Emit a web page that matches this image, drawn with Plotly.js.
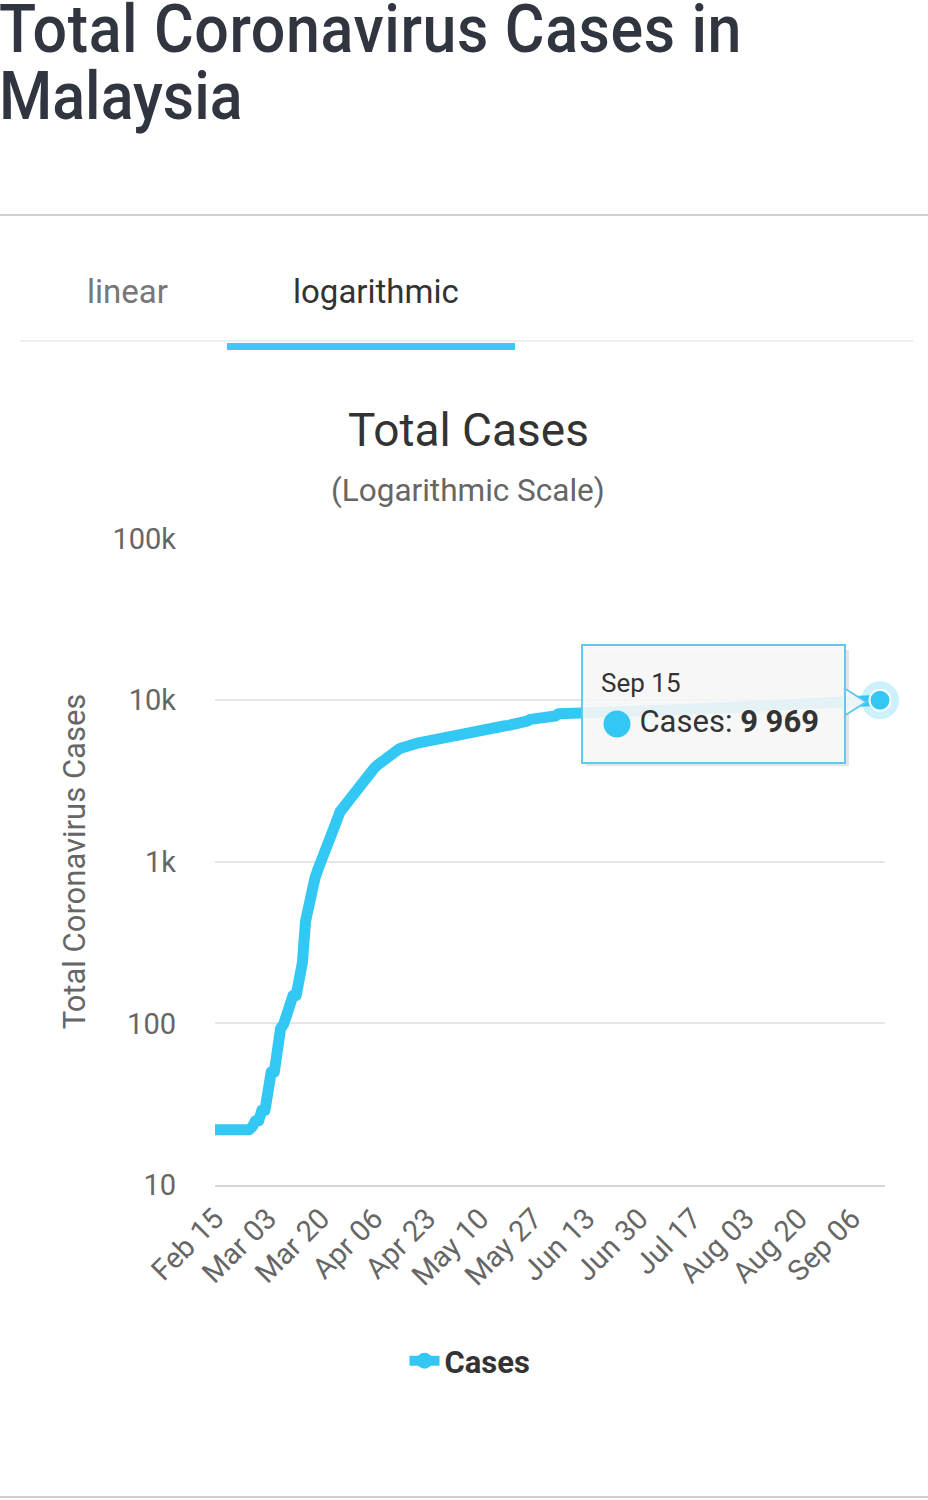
<!DOCTYPE html>
<html>
<head>
<meta charset="utf-8">
<script src="https://cdn.plot.ly/plotly-3.0.1.min.js"></script>
<style>
  html, body { margin:0; padding:0; background:#fff; width:928px; height:1500px; overflow:hidden; font-family: Roboto, "Noto Sans", sans-serif; }
  .head { position:absolute; left:-1px; font-size:66px; line-height:58px; height:58px; font-weight:500; color:#31353f; transform:scaleX(0.923); transform-origin:0 0; white-space:nowrap; }
  .hline { position:absolute; left:0; width:928px; height:2px; background:#d0d0d0; }
  .tab { position:absolute; top:272px; font-size:33px; line-height:40px; white-space:nowrap; }
  #tabsep { position:absolute; left:20px; width:893px; top:340px; height:2px; background:#eeeeee; }
  #tabbar { position:absolute; left:227px; width:288px; top:343px; height:7px; background:#3ec8f2; }
  #chart { position:absolute; left:0; top:360px; width:928px; height:1140px; }
  #chart path.js-line { stroke-linejoin: round; }
</style>
</head>
<body>
<div class="head" style="top:1px;letter-spacing:0.65px">Total Coronavirus Cases in</div>
<div class="head" style="top:68px">Malaysia</div>
<div class="hline" style="top:214px"></div>
<div class="tab" style="left:87px;color:#777">linear</div>
<div class="tab" style="left:293px;color:#333">logarithmic</div>
<div id="tabsep"></div>
<div id="tabbar"></div>
<div id="chart"></div>
<div class="hline" style="top:1496px"></div>
<script>
// ---- data (Feb 15 .. Sep 15, one value per day) ----
var startDate = "2020-02-15";
var casesFeb = [22,22,22,22,22,22,22,22,22,22,22,22,23,25,25];
var casesMar = [29,29,36,50,50,83,93,99,117,129,149,149,197,238,428,566,673,790,900,1030,1183,1306,1518,1624,1796,2031,2161,2320,2470,2626,2766];
var casesApr = [2908,3116,3333,3483,3662,3793,3963,4119,4228,4346,4530,4683,4817,4987,5072,5182,5251,5305,5389,5425,5482,5532,5603,5691,5742,5780,5820,5851,5945,6002];
var casesMay = [6071,6176,6298,6353,6383,6428,6467,6535,6589,6656,6726,6742,6779,6819,6855,6872,6894,6941,6978,7009,7059,7137,7185,7245,7417,7604,7619,7629,7732,7762,7819];
var casesJun = [7857,7877,7970,8247,8266,8303,8322,8329,8336,8338,8369,8402,8445,8453,8494,8505,8515,8529,8535,8556,8572,8587,8590,8596,8600,8606,8616,8634,8637,8640];
var casesJul = [8643,8648,8658,8663,8668,8674,8677,8683,8696,8704,8718,8725,8729,8734,8737,8755,8764,8779,8797,8800,8815,8831,8840,8861,8870,8884,8897,8904,8943,8956,8964];
var casesAug = [8976,8985,8999,9001,9002,9023,9038,9049,9063,9083,9094,9103,9114,9129,9149,9174,9175,9200,9212,9219,9235,9240,9257,9267,9274,9285,9291,9306,9334,9340,9354];
var casesSep = [9360,9374,9385,9391,9397,9459,9559,9583,9628,9810,9868,9885,9915,9946,9969];

var xTickLabels = ["Feb 15","Mar 03","Mar 20","Apr 06","Apr 23","May 10","May 27","Jun 13","Jun 30","Jul 17","Aug 03","Aug 20","Sep 06"];
var yTickVals = [10,100,1000,10000,100000];
var yTickText = ["10","100","1k","10k","100k"];
var seriesName = "Cases";

// ---- build ----
var cases = [].concat(casesFeb, casesMar, casesApr, casesMay, casesJun, casesJul, casesAug, casesSep);
var months = ["Jan","Feb","Mar","Apr","May","Jun","Jul","Aug","Sep","Oct","Nov","Dec"];
var dates = [];
var d0 = new Date(startDate + "T00:00:00Z");
for (var i = 0; i < cases.length; i++) {
  var d = new Date(d0.getTime() + i * 86400000);
  var dd = d.getUTCDate();
  dates.push(months[d.getUTCMonth()] + " " + (dd < 10 ? "0" + dd : dd));
}
var lastI = cases.length - 1;
var lastDate = dates[lastI].replace(/ 0(\d)$/, " $1");
var lastVal = String(cases[lastI]).replace(/\B(?=(\d{3})+(?!\d))/g, " ");

var blue = "#33c7f4";
var traces = [
  { x: dates, y: cases, type: "scatter", mode: "lines", name: seriesName, showlegend: false,
    line: { color: blue, width: 11, shape: "linear" }, hoverinfo: "skip", cliponaxis: false },
  { x: [dates[lastI]], y: [cases[lastI]], type: "scatter", mode: "markers", showlegend: false,
    marker: { color: "rgba(51,199,244,0.25)", size: 38 }, hoverinfo: "skip", cliponaxis: false },
  { x: [dates[lastI]], y: [cases[lastI]], type: "scatter", mode: "markers", showlegend: false,
    marker: { color: blue, size: 21, line: { color: "#ffffff", width: 2 } }, hoverinfo: "skip", cliponaxis: false },
  { x: [null], y: [null], type: "scatter", mode: "lines+markers", name: seriesName, showlegend: true,
    line: { color: blue, width: 10 }, marker: { color: blue, size: 16 } }
];

// pixel helpers for layout decoration (paper coordinates)
function px(x) { return (x - 215) / 670; }
function py(y) { return (1185 - y) / 647; }

var layout = {
  width: 928, height: 1140,
  margin: { l: 215, r: 43, t: 178, b: 315 },
  paper_bgcolor: "rgba(0,0,0,0)", plot_bgcolor: "rgba(0,0,0,0)",
  font: { family: "Roboto, 'Noto Sans', sans-serif", color: "#666" },
  hovermode: false,
  showlegend: true,
  xaxis: {
    type: "category", range: [0, 214.6],
    tickmode: "array", tickvals: xTickLabels, ticktext: xTickLabels,
    tickangle: -45, tickfont: { size: 29, color: "#666" },
    ticklabelstandoff: 3,
    showgrid: false, zeroline: false,
    showline: true, linecolor: "#d6d6d6", linewidth: 2,
    ticks: "", fixedrange: true
  },
  yaxis: {
    type: "log", range: [1, 5.003],
    tickmode: "array", tickvals: yTickVals, ticktext: yTickText,
    tickfont: { size: 29, color: "#666" },
    ticklabelstandoff: 38,
    showgrid: true, gridcolor: "#e6e6e6", gridwidth: 2,
    zeroline: false, showline: false, ticks: "",
    title: { text: "Total Coronavirus Cases", font: { size: 31, color: "#666" }, standoff: 17 },
    fixedrange: true
  },
  legend: {
    orientation: "h", x: px(470), xanchor: "center", y: py(1361), yanchor: "middle",
    font: { size: 31, color: "#333", weight: "bold" }, bgcolor: "rgba(0,0,0,0)"
  },
  annotations: [
    { xref: "paper", yref: "paper", x: px(468), y: py(430), xanchor: "center", yanchor: "middle",
      text: "Total Cases", showarrow: false, font: { size: 46, color: "#333" } },
    { xref: "paper", yref: "paper", x: px(468), y: py(490), xanchor: "center", yanchor: "middle",
      text: "(Logarithmic Scale)", showarrow: false, font: { size: 31.5, color: "#666" } },
    { xref: "paper", yref: "paper", x: px(713.5), y: py(704), xanchor: "center", yanchor: "middle",
      text: "<span style='font-size:26px'>" + lastDate + "</span><br>&nbsp;&nbsp;&nbsp;&nbsp;&nbsp;Cases: <b>" + lastVal + "</b>",
      showarrow: false, align: "left", valign: "middle",
      width: 225, height: 80, borderpad: 18,
      bgcolor: "rgba(248,248,248,0.9)", bordercolor: "#62c9ec", borderwidth: 2,
      font: { size: 31, color: "#333" } }
  ],
  shapes: [
    { type: "rect", xref: "paper", yref: "paper", x0: px(586), x1: px(849), y0: py(650), y1: py(766),
      fillcolor: "rgba(0,0,0,0.10)", line: { width: 0 }, layer: "above" },
    { type: "path", xref: "paper", yref: "paper", layer: "above",
      path: "M " + px(844) + " " + py(688) + " L " + px(866) + " " + py(702) + " L " + px(844) + " " + py(716) + " Z",
      fillcolor: "rgba(248,248,248,0.95)", line: { color: "#62c9ec", width: 2 } }
  ]
};

Plotly.newPlot("chart", traces, layout, { displayModeBar: false, staticPlot: true }).then(function (gd) {
  // series-coloured bullet inside the tooltip (decoration drawn over the annotation box)
  var ns = "http://www.w3.org/2000/svg";
  var c = document.createElementNS(ns, "circle");
  c.setAttribute("cx", 617); c.setAttribute("cy", 724 - 360); c.setAttribute("r", 13.5);
  c.setAttribute("fill", blue);
  var layer = gd.querySelectorAll(".main-svg");
  layer[layer.length - 1].appendChild(c);
});
</script>
</body>
</html>
